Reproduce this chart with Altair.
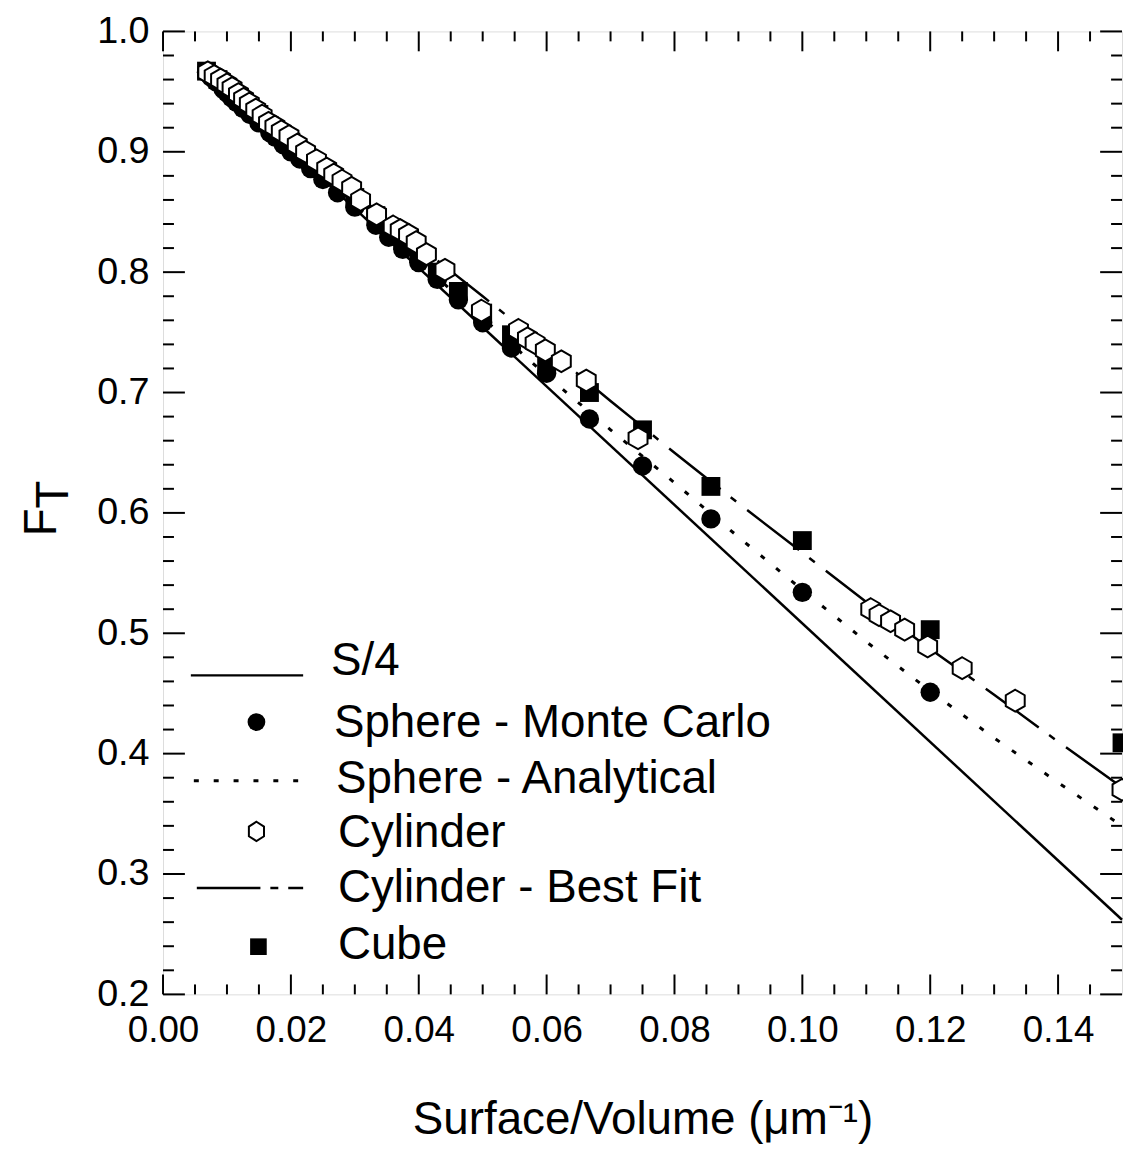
import altair as alt
import pandas as pd

FONT = "Liberation Sans, Arial, Helvetica, sans-serif"

# ---------------- data ----------------
s4_S = [0.0068, 0.150]
s4_F = [0.967, 0.262]

ana_S = [0.0068, 0.010, 0.015, 0.020, 0.030, 0.040, 0.050, 0.060, 0.070, 0.080,
         0.090, 0.100, 0.110, 0.120, 0.130, 0.140, 0.150]
ana_F = [0.966, 0.950, 0.927, 0.904, 0.856, 0.809, 0.762, 0.714, 0.669, 0.625,
         0.580, 0.536, 0.493, 0.452, 0.413, 0.376, 0.340]

fit_S = [0.0068, 0.010, 0.020, 0.030, 0.040, 0.050, 0.060, 0.070, 0.080, 0.090,
         0.100, 0.110, 0.120, 0.130, 0.140, 0.150]
fit_F = [0.966, 0.952, 0.910, 0.866, 0.822, 0.780, 0.737, 0.693, 0.650, 0.608,
         0.567, 0.526, 0.487, 0.449, 0.410, 0.372]

mc_S = [0.0068, 0.0075, 0.0083, 0.0094, 0.0100, 0.0107, 0.0115, 0.0125, 0.0136,
        0.0150, 0.0167, 0.0176, 0.0188, 0.0200, 0.0214, 0.0231, 0.0250, 0.0273,
        0.0300, 0.0333, 0.0353, 0.0375, 0.0400, 0.0429, 0.0462, 0.0500, 0.0545,
        0.0600, 0.0667, 0.0750, 0.0857, 0.1000, 0.1200]
mc_F = [0.966, 0.962, 0.958, 0.952, 0.949, 0.945, 0.941, 0.936, 0.931,
        0.924, 0.916, 0.912, 0.906, 0.900, 0.894, 0.886, 0.877, 0.866,
        0.854, 0.839, 0.829, 0.819, 0.808, 0.794, 0.777, 0.758, 0.737,
        0.716, 0.678, 0.639, 0.595, 0.534, 0.451]

cube_S = [0.0068, 0.0086, 0.0100, 0.0120, 0.0150, 0.0200, 0.0240, 0.0300, 0.0333,
          0.0375, 0.0400, 0.0429, 0.0462, 0.0500, 0.0545, 0.0600, 0.0667, 0.0750,
          0.0857, 0.1000, 0.1200, 0.1500]
cube_F = [0.967, 0.960, 0.953, 0.944, 0.931, 0.908, 0.890, 0.862, 0.847,
          0.827, 0.816, 0.800, 0.784, 0.766, 0.748, 0.722, 0.700, 0.669,
          0.622, 0.577, 0.503, 0.409]

cyl_S = [0.0070, 0.0080, 0.0090, 0.0100, 0.0108, 0.0118, 0.0126, 0.0135, 0.0145,
         0.0155, 0.0165, 0.0175, 0.0185, 0.0197, 0.0210, 0.0223, 0.0240, 0.0256,
         0.0267, 0.0280, 0.0295, 0.0309, 0.0334, 0.0360, 0.0371, 0.0384, 0.0396,
         0.0412, 0.0441, 0.0498, 0.0556, 0.0570, 0.0582, 0.0598, 0.0623, 0.0662,
         0.0743, 0.1107, 0.1120, 0.1138, 0.1160, 0.1196, 0.1250, 0.1333, 0.1500]
cyl_F = [0.966, 0.963, 0.960, 0.956, 0.953, 0.948, 0.944, 0.940, 0.935,
         0.930, 0.924, 0.921, 0.917, 0.913, 0.906, 0.900, 0.893, 0.886,
         0.881, 0.876, 0.870, 0.860, 0.848, 0.838, 0.835, 0.831, 0.825,
         0.815, 0.802, 0.768, 0.752, 0.745, 0.741, 0.735, 0.726, 0.710,
         0.662, 0.520, 0.515, 0.510, 0.503, 0.489, 0.471, 0.444, 0.370]

x_major = [0.00, 0.02, 0.04, 0.06, 0.08, 0.10, 0.12, 0.14]
x_minor = [0.005, 0.010, 0.015, 0.025, 0.030, 0.035, 0.045, 0.050, 0.055,
           0.065, 0.070, 0.075, 0.085, 0.090, 0.095, 0.105, 0.110, 0.115,
           0.125, 0.130, 0.135, 0.145]
y_major = [0.2, 0.3, 0.4, 0.5, 0.6, 0.7, 0.8, 0.9, 1.0]
y_minor = [0.22, 0.24, 0.26, 0.28, 0.32, 0.34, 0.36, 0.38, 0.42, 0.44, 0.46, 0.48,
           0.52, 0.54, 0.56, 0.58, 0.62, 0.64, 0.66, 0.68, 0.72, 0.74, 0.76, 0.78,
           0.82, 0.84, 0.86, 0.88, 0.92, 0.94, 0.96, 0.98]

legend_labels = ["S/4", "Sphere - Monte Carlo", "Sphere - Analytical",
                 "Cylinder", "Cylinder - Best Fit", "Cube"]
x_title = "Surface/Volume (\u03bcm\u207b\u00b9)"
y_title_main = "F"
y_title_sub = "T"

# ---------------- styling ----------------
PAD_T = 20
W, H = 965, 969
HEX = "M0,-1L0.866,-0.5L0.866,0.5L0,1L-0.866,0.5L-0.866,-0.5Z"
HEX_LEG = "M0,-1L0.78,-0.5L0.78,0.5L0,1L-0.78,0.5L-0.78,-0.5Z"
DOT = [5, 15]
DASHDOT = [66, 13, 7, 14]

xs = alt.Scale(domain=[0, 0.15], nice=False, zero=False)
ys = alt.Scale(domain=[0.2, 1.0], nice=False, zero=False)
xaxis = alt.Axis(values=x_major, format=".2f", ticks=False, tickSize=0, domain=False,
                 grid=False, labelFontSize=37, labelPadding=18, labelFont=FONT,
                 labelColor="black", labelFlush=False, title=x_title,
                 titleFontSize=46, titleFont=FONT, titleFontWeight="normal",
                 titlePadding=50, titleColor="black")
yaxis = alt.Axis(values=y_major, format=".1f", ticks=False, tickSize=0, domain=False,
                 grid=False, labelFontSize=38, labelPadding=14, labelFont=FONT,
                 labelColor="black", labelFlush=False, title="")
X = alt.X("S:Q", scale=xs, axis=xaxis)
Y = alt.Y("F:Q", scale=ys, axis=yaxis)


def df(S, F):
    return pd.DataFrame({"S": S, "F": F})


layers = []

# curves
layers.append(alt.Chart(df(s4_S, s4_F)).mark_line(color="black", strokeWidth=2.5)
              .encode(x=X, y=Y))
layers.append(alt.Chart(df(ana_S, ana_F)).mark_line(color="black", strokeWidth=3, strokeDash=DOT)
              .encode(x=X, y=Y))
layers.append(alt.Chart(df(fit_S, fit_F)).mark_line(color="black", strokeWidth=2.5, strokeDash=DASHDOT)
              .encode(x=X, y=Y))

# markers
layers.append(alt.Chart(df(mc_S, mc_F)).mark_point(shape="circle", filled=True, color="black",
                                                   size=380, opacity=1)
              .encode(x=X, y=Y))
layers.append(alt.Chart(df(cube_S, cube_F)).mark_point(shape="square", filled=True, color="black",
                                                       size=360, opacity=1)
              .encode(x=X, y=Y))
layers.append(alt.Chart(df(cyl_S, cyl_F)).mark_point(shape=HEX, filled=True, fill="white",
                                                     stroke="black", strokeWidth=2,
                                                     size=484, opacity=1)
              .encode(x=X, y=Y))

# inward ticks on all four sides
for vals, L in ((x_major, 20), (x_minor, 10)):
    base = alt.Chart(pd.DataFrame({"S": vals})).mark_rule(color="black", strokeWidth=2)
    layers.append(base.encode(x=X, y=alt.value(H), y2=alt.value(H - L)))
    layers.append(base.encode(x=X, y=alt.value(0), y2=alt.value(L)))
for vals, L in ((y_major, 22), (y_minor, 11)):
    base = alt.Chart(pd.DataFrame({"F": vals})).mark_rule(color="black", strokeWidth=2)
    layers.append(base.encode(y=Y, x=alt.value(0), x2=alt.value(L)))
    layers.append(base.encode(y=Y, x=alt.value(W), x2=alt.value(W - L)))

# legend (pixel offsets relative to the plot's top-left corner)
off = 22 - (8 + PAD_T)
one = pd.DataFrame({"k": [0]})
leg_y = [640, 702, 758, 813, 868, 925]
leg_text_x = [169, 172, 174, 176, 176, 176]
layers.append(alt.Chart(one).mark_rule(color="black", strokeWidth=2.5)
              .encode(x=alt.value(28), x2=alt.value(141), y=alt.value(654 + off)))
layers.append(alt.Chart(one).mark_point(shape="circle", filled=True, color="black",
                                        size=320, opacity=1)
              .encode(x=alt.value(94), y=alt.value(701 + off)))
layers.append(alt.Chart(one).mark_rule(color="black", strokeWidth=3, strokeDash=DOT)
              .encode(x=alt.value(31), x2=alt.value(141), y=alt.value(760 + off)))
layers.append(alt.Chart(one).mark_point(shape=HEX_LEG, filled=True, fill="white",
                                        stroke="black", strokeWidth=2, size=380, opacity=1)
              .encode(x=alt.value(94), y=alt.value(811 + off)))
layers.append(alt.Chart(one).mark_rule(color="black", strokeWidth=2.5, strokeDash=[64, 10, 8, 10])
              .encode(x=alt.value(34), x2=alt.value(141), y=alt.value(868 + off)))
layers.append(alt.Chart(one).mark_point(shape="square", filled=True, color="black",
                                        size=280, opacity=1)
              .encode(x=alt.value(96), y=alt.value(927 + off)))
for lab, ty, tx in zip(legend_labels, leg_y, leg_text_x):
    layers.append(alt.Chart(one).mark_text(align="left", baseline="middle", fontSize=46,
                                           font=FONT, color="black")
                  .encode(x=alt.value(tx), y=alt.value(ty + off), text=alt.value(lab)))

# y-axis title F with subscript T
layers.append(alt.Chart(one).mark_text(angle=270, align="center", baseline="alphabetic",
                                       fontSize=46, font=FONT, color="black")
              .encode(x=alt.value(-108), y=alt.value(500 + off), text=alt.value(y_title_main)))
layers.append(alt.Chart(one).mark_text(angle=270, align="center", baseline="alphabetic",
                                       fontSize=46, font=FONT, color="black")
              .encode(x=alt.value(-96), y=alt.value(472 + off), text=alt.value(y_title_sub)))

chart = (alt.layer(*layers)
         .properties(width=W, height=H,
                     padding={"left": 156, "top": PAD_T, "right": 1, "bottom": 148},
                     autosize=alt.AutoSizeParams(type="none"))
         .configure_view(stroke="black", strokeWidth=2.5)
         .configure(font=FONT))

chart.save("out.html", embed_options={"renderer": "svg", "actions": False})
